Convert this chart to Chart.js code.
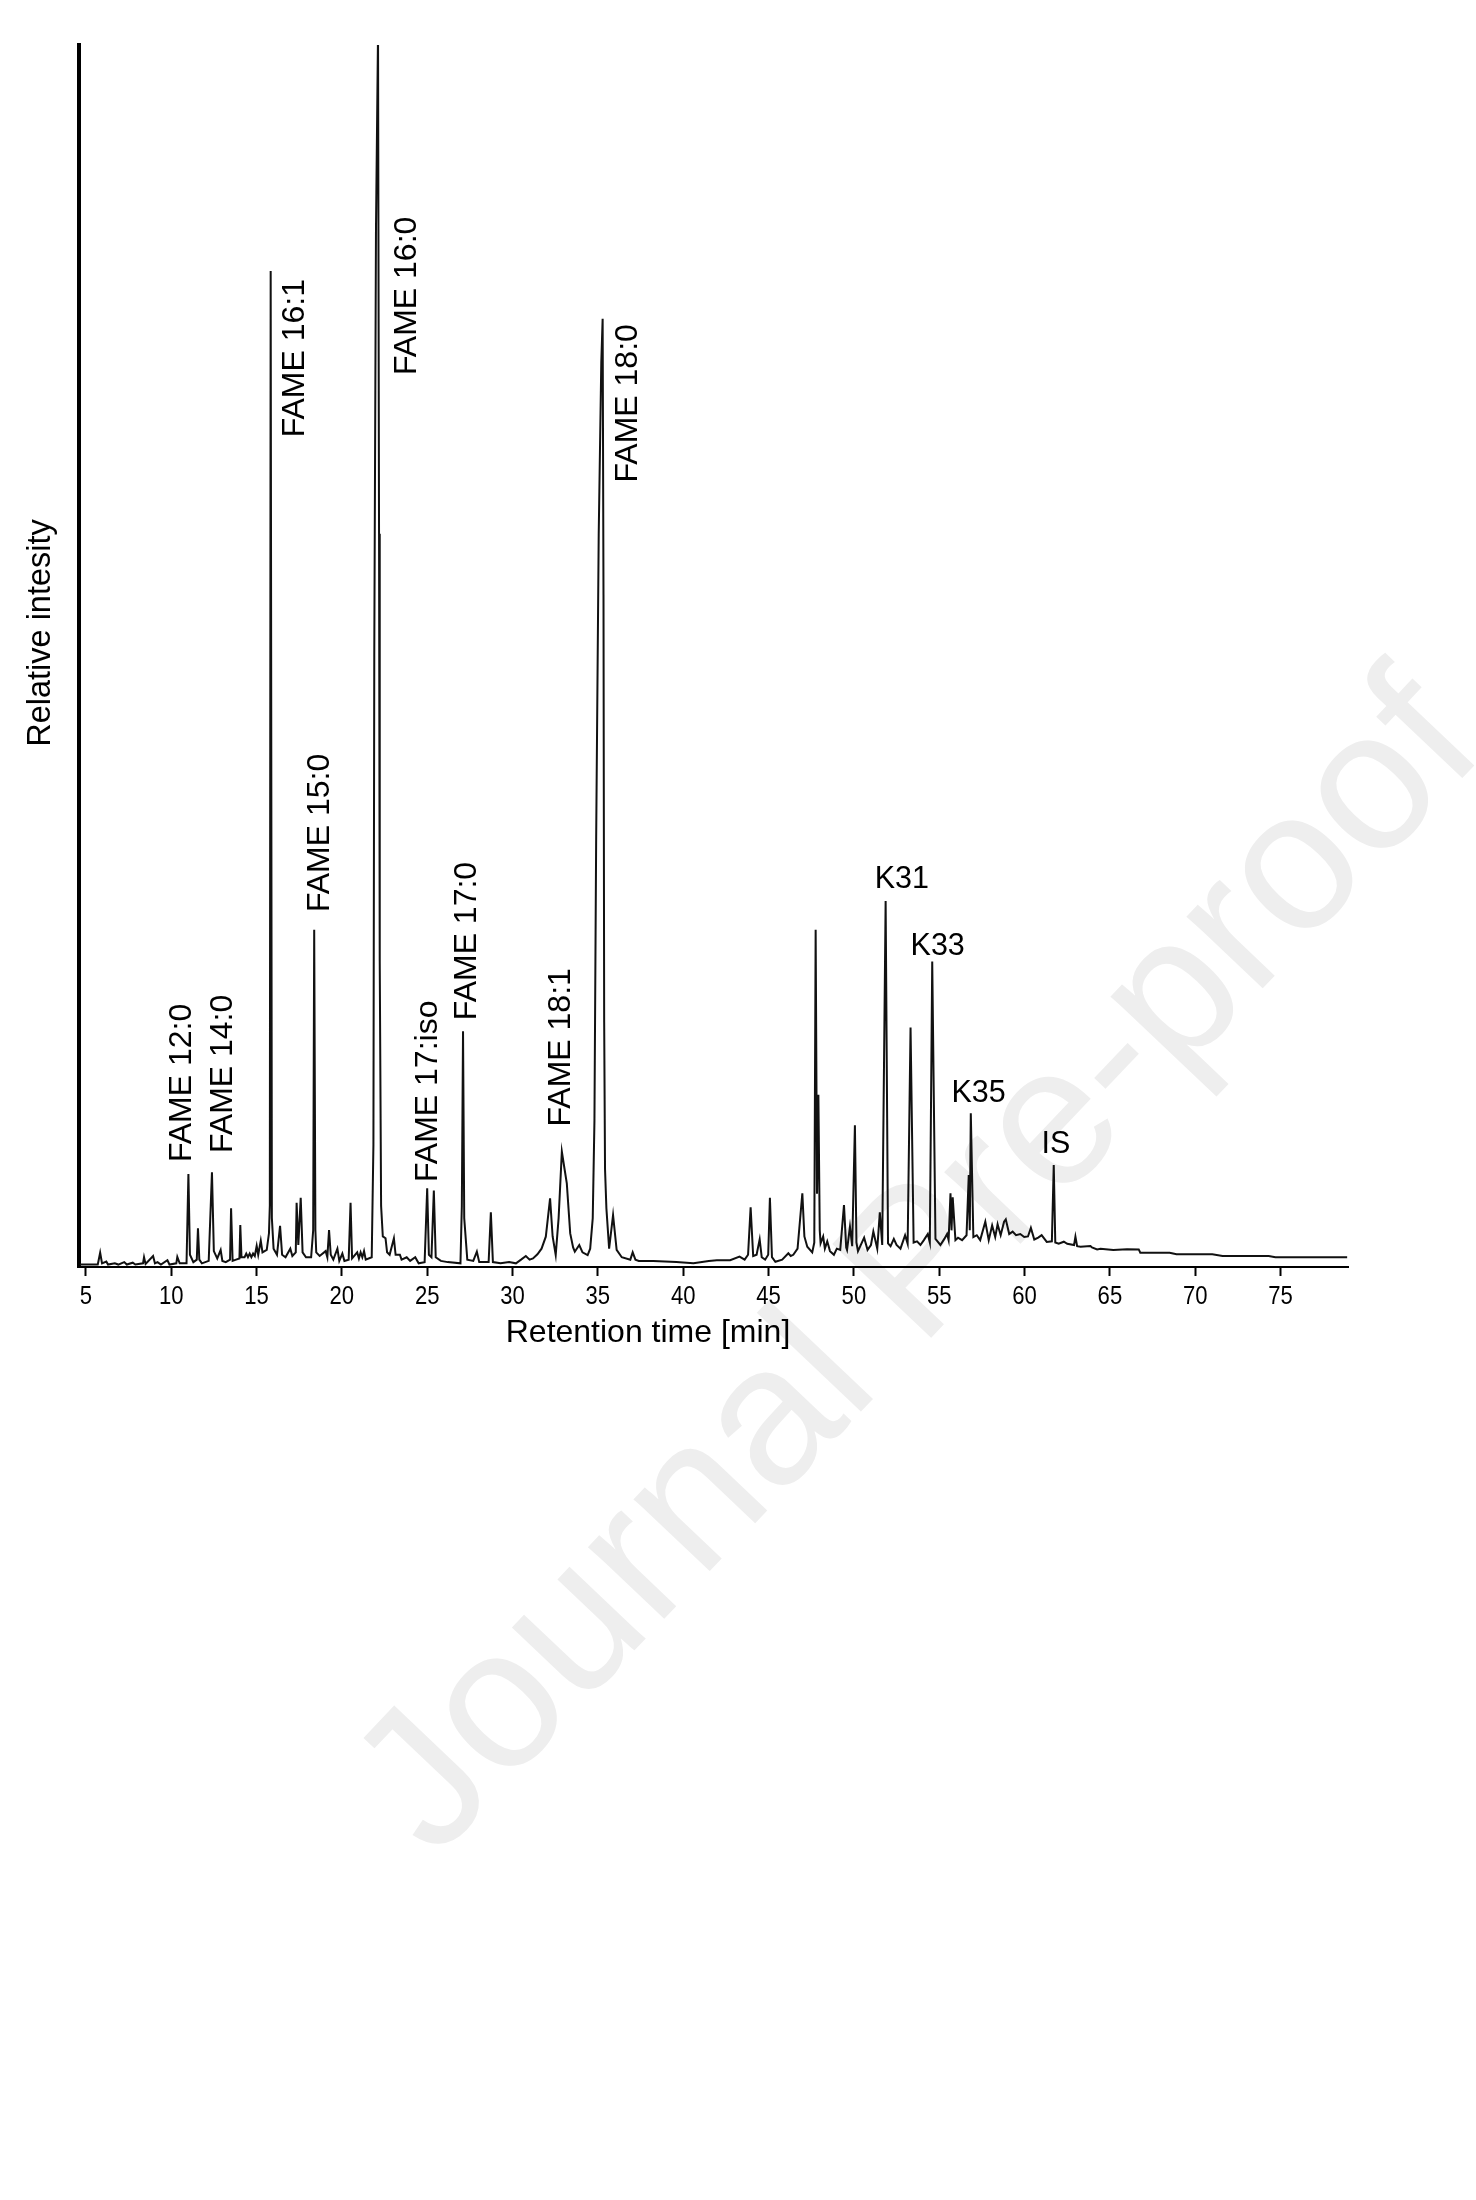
<!DOCTYPE html>
<html>
<head>
<meta charset="utf-8">
<script src="https://cdn.jsdelivr.net/npm/chart.js@4.4.1/dist/chart.umd.min.js"></script>
<style>
  html, body { margin: 0; padding: 0; background: #ffffff; }
  #wrap { width: 1476px; height: 2200px; }
</style>
</head>
<body>
<div id="wrap"><canvas id="c" width="1476" height="2200"></canvas></div>
<script>
// ---------------- DATA ----------------
const retentionTime = [
  4.65, 5.7, 5.84, 5.95, 6.2, 6.3, 6.7, 6.9, 7.25, 7.4, 7.75, 7.9, 8.35, 8.41, 8.5, 8.94, 9.05, 9.2, 9.4, 9.78,
  9.9, 10.3, 10.36, 10.5, 10.9, 11.01, 11.1, 11.3, 11.5, 11.57, 11.65, 11.8, 12.2, 12.39, 12.5, 12.7, 12.9, 13.0, 13.2, 13.45,
  13.51, 13.6, 13.8, 14.0, 14.05, 14.12, 14.3, 14.4, 14.5, 14.6, 14.7, 14.8, 14.9, 15.01, 15.1, 15.25, 15.35, 15.6, 15.73, 15.78,
  15.83, 15.9, 16.0, 16.2, 16.38, 16.5, 16.7, 16.98, 17.1, 17.3, 17.35, 17.45, 17.59, 17.7, 17.9, 18.2, 18.32, 18.38, 18.45, 18.5,
  18.7, 19.05, 19.15, 19.25, 19.35, 19.5, 19.74, 19.85, 20.03, 20.15, 20.4, 20.51, 20.6, 20.9, 21.0, 21.1, 21.2, 21.3, 21.4, 21.75,
  21.85, 21.9, 22.0, 22.12, 22.18, 22.22, 22.3, 22.4, 22.56, 22.65, 22.8, 23.05, 23.15, 23.4, 23.5, 23.8, 24.0, 24.3, 24.5, 24.85,
  25.0, 25.1, 25.25, 25.39, 25.5, 25.8, 26.2, 26.95, 27.03, 27.1, 27.17, 27.35, 27.7, 27.91, 28.05, 28.6, 28.73, 28.85, 29.3, 29.8,
  30.2, 30.5, 30.78, 31.0, 31.2, 31.46, 31.7, 31.95, 32.2, 32.35, 32.53, 32.7, 32.89, 33.05, 33.18, 33.38, 33.55, 33.65, 33.91, 34.1,
  34.4, 34.55, 34.7, 34.8, 34.9, 35.05, 35.2, 35.28, 35.33, 35.37, 35.42, 35.5, 35.66, 35.89, 36.1, 36.4, 36.9, 37.04, 37.2, 37.4,
  38.25, 39.6, 40.6, 41.5, 41.97, 42.75, 43.3, 43.6, 43.8, 43.95, 44.1, 44.3, 44.48, 44.6, 44.8, 44.98, 45.08, 45.2, 45.4, 45.8,
  46.16, 46.3, 46.45, 46.7, 46.98, 47.1, 47.27, 47.56, 47.68, 47.76, 47.84, 47.92, 48.0, 48.05, 48.2, 48.3, 48.44, 48.6, 48.83, 49.0,
  49.2, 49.42, 49.55, 49.6, 49.77, 49.9, 50.06, 50.15, 50.24, 50.6, 50.8, 51.0, 51.14, 51.37, 51.52, 51.66, 51.86, 52.0, 52.15, 52.34,
  52.5, 52.73, 53.0, 53.15, 53.32, 53.5, 53.7, 53.9, 54.1, 54.33, 54.45, 54.59, 54.78, 55.07, 55.3, 55.46, 55.55, 55.66, 55.72, 55.79,
  55.95, 56.1, 56.34, 56.6, 56.73, 56.79, 56.85, 57.0, 57.2, 57.4, 57.7, 57.9, 58.1, 58.28, 58.42, 58.6, 58.8, 58.9, 59.1, 59.3,
  59.5, 59.75, 59.98, 60.2, 60.37, 60.57, 60.8, 61.0, 61.3, 61.6, 61.71, 61.8, 62.0, 62.3, 62.5, 62.9, 62.98, 63.08, 63.28, 63.86,
  63.95, 64.25, 64.45, 65.2, 66.0, 66.69, 66.78, 68.5, 68.9, 71.0, 71.6, 74.3, 74.7, 78.9
];
const intensity = [
  0.2, 0.2, 1.17, 0.3, 0.45, 0.2, 0.3, 0.2, 0.4, 0.2, 0.35, 0.2, 0.3, 0.8, 0.25, 0.9, 0.3, 0.4, 0.2, 0.55,
  0.2, 0.3, 0.82, 0.3, 0.3, 7.61, 1.0, 0.4, 0.6, 3.17, 0.6, 0.3, 0.5, 7.75, 1.3, 0.7, 1.39, 0.5, 0.4, 0.6,
  4.8, 0.5, 0.6, 0.7, 3.44, 0.8, 0.8, 1.1, 0.8, 1.1, 0.8, 1.1, 0.9, 1.72, 1.0, 2.15, 1.2, 1.4, 2.76, 5,
  81.5, 4, 1.5, 1.0, 3.36, 1.0, 0.8, 1.5, 0.9, 1.2, 5.26, 1.8, 5.67, 1.2, 0.8, 0.8, 3, 27.6, 3, 1.2,
  0.9, 1.3, 0.8, 3.03, 1.0, 0.6, 1.5, 0.5, 1.1, 0.5, 0.6, 5.26, 0.7, 1.2, 0.7, 1.2, 0.8, 1.3, 0.6, 0.8,
  10, 50, 85, 101, 60, 25, 5, 2.5, 2.35, 1.2, 1.0, 2.35, 1.0, 1.0, 0.6, 0.8, 0.5, 0.8, 0.3, 0.4,
  6.44, 1.0, 0.8, 6.25, 0.8, 0.5, 0.4, 0.3, 5, 19.3, 4, 0.6, 0.5, 1.25, 0.4, 0.4, 4.47, 0.4, 0.3, 0.4,
  0.3, 0.6, 0.9, 0.6, 0.7, 1.04, 1.5, 2.48, 5.62, 2.5, 0.98, 4, 9.44, 8, 6.85, 2.75, 1.6, 1.25, 1.8, 1.2,
  0.98, 1.5, 4, 12, 35, 60, 74, 77.6, 55, 20, 8, 4.8, 1.5, 4.25, 1.4, 0.8, 0.6, 1.2, 0.6, 0.5,
  0.5, 0.4, 0.3, 0.5, 0.55, 0.55, 0.85, 0.6, 1.0, 4.88, 0.9, 1.0, 2.26, 0.8, 0.6, 1.0, 5.67, 0.8, 0.43, 0.6,
  1.12, 0.9, 1.0, 1.5, 6.03, 2.5, 1.66, 1.2, 2, 27.6, 6, 14.1, 3, 1.94, 2.5, 1.5, 2.1, 1.3, 1.0, 1.5,
  1.4, 5.07, 1.6, 1.4, 3.3, 1.7, 11.6, 2, 1.3, 2.4, 1.4, 1.8, 2.9, 1.5, 4.47, 1.8, 29.95, 1.94, 1.7, 2.3,
  1.8, 1.5, 2.6, 1.9, 19.6, 2.0, 2.1, 1.8, 2.2, 2.7, 2.0, 25.0, 2.3, 1.8, 2.3, 2.7, 2.2, 6.03, 3, 5.7,
  2.2, 2.4, 2.2, 2.6, 7.53, 3, 12.58, 2.45, 2.6, 2.2, 3.71, 2.2, 3.4, 2.45, 3.5, 2.6, 3.7, 3.9, 2.7, 2.9,
  2.6, 2.7, 2.45, 2.5, 3.2, 2.25, 2.4, 2.6, 2.05, 2.1, 8.35, 2.0, 1.9, 2.07, 1.9, 1.8, 2.48, 1.7, 1.66, 1.72,
  1.6, 1.44, 1.5, 1.39, 1.45, 1.44, 1.17, 1.17, 1.04, 1.04, 0.9, 0.9, 0.79, 0.79
];
const tickValues = [5, 10, 15, 20, 25, 30, 35, 40, 45, 50, 55, 60, 65, 70, 75];

const peakNames = ['FAME 12:0', 'FAME 14:0', 'FAME 16:1', 'FAME 15:0', 'FAME 16:0', 'FAME 17:iso',
                   'FAME 17:0', 'FAME 18:1', 'FAME 18:0', 'K31', 'K33', 'K35', 'IS'];

const xTitle = 'Retention time [min]';
const yTitle = 'Relative intesity';
const watermarkText = 'Journal Pre-proof';

// ---------------- LAYOUT (label anchors in data units, styles) ----------------
const labelAnchorT = [10.64, 13.02, 17.26, 18.72, 23.82, 25.06, 27.33, 32.83, 36.75, 51.22, 53.32, 55.72, 60.99];
const labelAnchorI = [8.59, 9.33, 67.9, 29.05, 73.0, 6.96, 20.2, 11.5, 64.2, 31.0, 25.5, 13.5, 9.33];
const labelVertical = [true, true, true, true, true, true, true, true, true, false, false, false, false];

const FONT = '"Liberation Sans", Arial, Helvetica, sans-serif';

const W = 1476, H = 2200;
const AREA = { left: 79, top: 45, right: 1348, bottom: 1267 };

const decorPlugin = {
  id: 'decor',
  beforeDraw(chart) {
    const ctx = chart.ctx;
    ctx.save();
    ctx.fillStyle = '#ffffff';
    ctx.fillRect(0, 0, W, H);
    // faint watermark
    ctx.translate(922, 1268);
    ctx.rotate(-46.5 * Math.PI / 180);
    ctx.font = '198px ' + FONT;
    ctx.fillStyle = '#eeeeee';
    ctx.textAlign = 'center';
    ctx.textBaseline = 'middle';
    ctx.fillText(watermarkText, 0, 0);
    ctx.restore();
  },
  afterDatasetsDraw(chart) {
    const ctx = chart.ctx;
    const xs = chart.scales.x, ys = chart.scales.y;
    ctx.save();
    ctx.fillStyle = '#000';
    for (let i = 0; i < peakNames.length; i++) {
      const px = xs.getPixelForValue(labelAnchorT[i]);
      const py = ys.getPixelForValue(labelAnchorI[i]);
      ctx.save();
      ctx.translate(px, py);
      if (labelVertical[i]) {
        ctx.font = '32px ' + FONT;
        ctx.rotate(-Math.PI / 2);
        ctx.textAlign = 'left';
        ctx.textBaseline = 'middle';
      } else {
        ctx.font = '30.5px ' + FONT;
        ctx.textAlign = 'left';
        ctx.textBaseline = 'alphabetic';
      }
      ctx.fillText(peakNames[i], 0, 0);
      ctx.restore();
    }
    // condensed tick labels, placed with the x scale
    const ca = chart.chartArea;
    ctx.font = '26px ' + FONT;
    ctx.textAlign = 'center';
    ctx.textBaseline = 'alphabetic';
    tickValues.forEach(v => {
      const px = xs.getPixelForValue(v);
      ctx.save();
      ctx.translate(px, ca.bottom + 37);
      ctx.scale(0.85, 1);
      ctx.fillText(String(v), 0, 0);
      ctx.restore();
    });
    // axis titles
    ctx.font = '32px ' + FONT;
    ctx.textAlign = 'center';
    ctx.textBaseline = 'alphabetic';
    ctx.fillText(xTitle, ca.left + 569, ca.bottom + 75);
    ctx.save();
    ctx.translate(50, ca.top + 588);
    ctx.rotate(-Math.PI / 2);
    ctx.font = '32.5px ' + FONT;
    ctx.fillText(yTitle, 0, 0);
    ctx.restore();
    ctx.restore();
  }
};

new Chart(document.getElementById('c'), {
  type: 'line',
  data: {
    datasets: [{
      data: retentionTime.map((t, i) => ({ x: t, y: intensity[i] })),
      borderColor: '#111111',
      borderWidth: 2,
      pointRadius: 0,
      tension: 0,
      fill: false
    }]
  },
  options: {
    responsive: false,
    animation: false,
    devicePixelRatio: 1,
    layout: { padding: { top: AREA.top, right: W - AREA.right, bottom: 0, left: 0 } },
    plugins: { legend: { display: false }, tooltip: { enabled: false } },
    scales: {
      x: {
        type: 'linear',
        min: 4.6,
        max: 78.95,
        afterBuildTicks: s => { s.ticks = tickValues.map(v => ({ value: v })); },
        afterFit: s => { s.height = H - AREA.bottom; },
        grid: { display: true, drawOnChartArea: false, drawTicks: true, tickLength: 9, tickWidth: 2, tickColor: '#000' },
        border: { display: true, color: '#000', width: 2 },
        ticks: { color: 'rgba(0,0,0,0)', font: { family: FONT, size: 21 }, padding: 6, maxRotation: 0, autoSkip: false,
                 callback: v => String(v) }
      },
      y: {
        type: 'linear',
        min: 0,
        max: 100,
        afterFit: s => { s.width = AREA.left; },
        grid: { display: false },
        border: { display: true, color: '#000', width: 4 },
        ticks: { display: false }
      }
    }
  },
  plugins: [decorPlugin]
});
</script>
</body>
</html>
